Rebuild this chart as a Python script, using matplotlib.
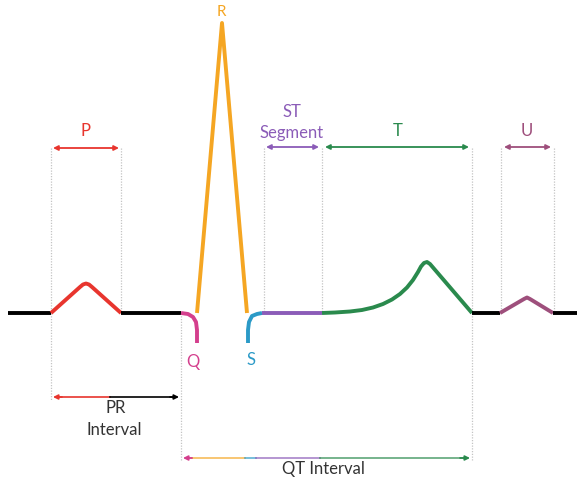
import matplotlib.pyplot as plt

# waveform pieces (pixel coords, y down)
base_left_x = [8, 51]
base_left_y = [313, 313]
p_x = [51, 80, 83, 86, 89, 92, 121]
p_y = [313, 287, 284.5, 283.5, 284.5, 287, 313]
pr_seg_x = [121, 181]
pr_seg_y = [313, 313]
q_x = [181, 188, 193, 196, 197, 197]
q_y = [313, 314, 317, 322, 330, 343]
r_x = [197, 222, 247]
r_y = [313, 23, 313]
s_x = [248, 248, 248, 249, 252, 257, 262]
s_y = [343, 330, 330, 322, 316, 314, 313]
st_x = [262, 322]
st_y = [313, 313]
t_x = [322, 335, 350, 362, 373, 383, 392, 400, 407, 413, 418, 421, 424, 427, 430, 472]
t_y = [313, 312.5, 311.5, 310, 307.5, 304, 299.5, 294, 287.5, 280, 272, 266.5, 263, 262, 264, 313]
tp_x = [472, 500]
tp_y = [313, 313]
u_x = [500, 524, 527, 530, 553]
u_y = [313, 299, 297.5, 299, 313]
base_right_x = [553, 577]
base_right_y = [313, 313]

red = '#e8352e'
orange = '#f5a623'
pink = '#d43f8d'
blue = '#2b9ac7'
purple = '#8b5cb8'
green = '#2a8a4d'
mauve = '#9e4f7c'

fig = plt.figure(figsize=(5.77, 4.78), dpi=100)
ax = fig.add_axes([0, 0, 1, 1])
ax.set_xlim(0, 577)
ax.set_ylim(478, 0)
ax.axis('off')

# dotted guides
guides = [(51, 148, 400), (121, 148, 313), (181, 313, 460), (264, 148, 313),
          (322, 148, 313), (472, 148, 460), (501, 148, 313), (554, 148, 313)]
for gx, y0, y1 in guides:
    ax.plot([gx, gx], [y0, y1], color='#c4c4c4', lw=0.9, ls=(0, (1, 1.2)), zorder=1)

kw = dict(lw=2.8, solid_joinstyle='round', solid_capstyle='butt', zorder=3)
ax.plot(base_left_x, base_left_y, color='black', **kw)
ax.plot(p_x, p_y, color=red, **kw)
ax.plot(pr_seg_x, pr_seg_y, color='black', **kw)
ax.plot(q_x, q_y, color=pink, **kw)
ax.plot(r_x, r_y, color=orange, **kw)
ax.plot(s_x, s_y, color=blue, **kw)
ax.plot(st_x, st_y, color=purple, **kw)
ax.plot(t_x, t_y, color=green, **kw)
ax.plot(tp_x, tp_y, color='black', **kw)
ax.plot(u_x, u_y, color=mauve, **kw)
ax.plot(base_right_x, base_right_y, color='black', **kw)


def dbl_arrow(x0, x1, y, c):
    ax.annotate('', xy=(x0, y), xytext=(x1, y),
                arrowprops=dict(arrowstyle='<|-|>', color=c, lw=1.3,
                                mutation_scale=7, shrinkA=0, shrinkB=0))


dbl_arrow(53, 119, 148, red)
dbl_arrow(266, 319, 147, purple)
dbl_arrow(325, 469, 147, green)
dbl_arrow(504, 551, 147, mauve)

font = 'Lato'
ax.text(86, 131, 'P', color=red, fontsize=12, ha='center', va='center', family=font)
ax.text(292, 112, 'ST', color=purple, fontsize=12, ha='center', va='center', family=font)
ax.text(292, 133, 'Segment', color=purple, fontsize=12, ha='center', va='center', family=font)
ax.text(398, 131, 'T', color=green, fontsize=12, ha='center', va='center', family=font)
ax.text(527, 131, 'U', color=mauve, fontsize=12, ha='center', va='center', family=font)
ax.text(221, 12, 'R', color=orange, fontsize=11, ha='center', va='center', family=font)
ax.text(193, 362, 'Q', color=pink, fontsize=12, ha='center', va='center', family=font)
ax.text(251, 360, 'S', color=blue, fontsize=12, ha='center', va='center', family=font)

# PR interval arrow: red half then black
ax.plot([56, 110], [397, 397], color=red, lw=1.2, zorder=2)
ax.plot([110, 176], [397, 397], color='black', lw=1.2, zorder=2)
ax.annotate('', xy=(53, 397), xytext=(62, 397),
            arrowprops=dict(arrowstyle='-|>', color=red, lw=1.2, mutation_scale=7, shrinkA=0, shrinkB=0))
ax.annotate('', xy=(179, 397), xytext=(170, 397),
            arrowprops=dict(arrowstyle='-|>', color='black', lw=1.2, mutation_scale=7, shrinkA=0, shrinkB=0))
ax.text(116, 408, 'PR', color='#333333', fontsize=12, ha='center', va='center', family=font)
ax.text(114, 430, 'Interval', color='#333333', fontsize=12, ha='center', va='center', family=font)

# QT interval arrow with coloured pieces
qt_pieces = [(186, 192, pink), (192, 245, orange), (245, 256, blue),
             (256, 320, purple), (320, 466, green)]
for a, b, c in qt_pieces:
    ax.plot([a, b], [458, 458], color=c, lw=1.2, alpha=0.75, zorder=2)
ax.annotate('', xy=(183, 458), xytext=(192, 458),
            arrowprops=dict(arrowstyle='-|>', color=pink, lw=1.2, mutation_scale=7, shrinkA=0, shrinkB=0))
ax.annotate('', xy=(470, 458), xytext=(460, 458),
            arrowprops=dict(arrowstyle='-|>', color=green, lw=1.2, mutation_scale=7, shrinkA=0, shrinkB=0))
ax.text(323, 469, 'QT Interval', color='#333333', fontsize=12, ha='center', va='center', family=font)

fig.savefig('out.png', dpi=100)
